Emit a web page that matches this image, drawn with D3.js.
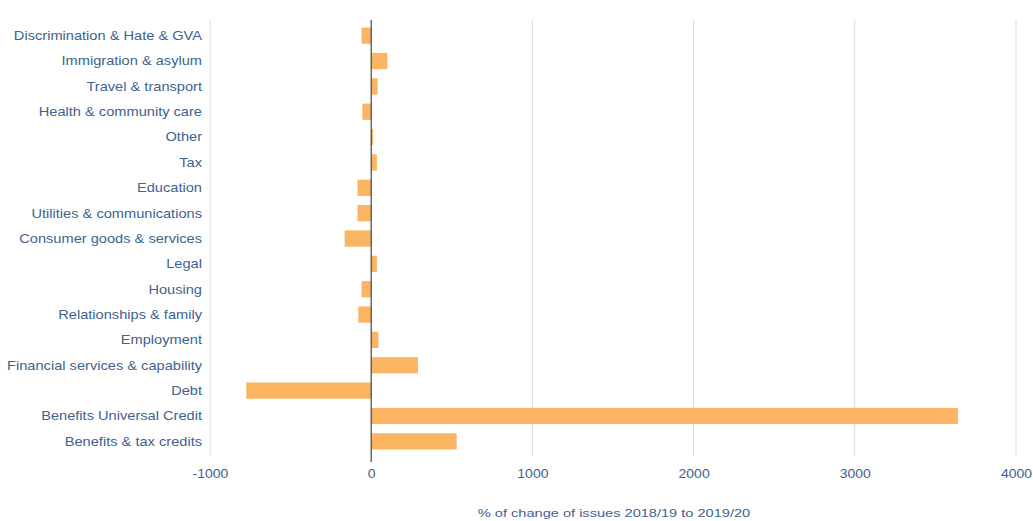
<!DOCTYPE html>
<html><head><meta charset="utf-8">
<script src="https://cdn.jsdelivr.net/npm/d3@7"></script>
<style>body{margin:0;background:#fff;}svg{display:block;font-family:"Liberation Sans",Arial,sans-serif;}</style>
</head><body>
<svg id="c" width="1033" height="521"></svg>
<script>
const categories = ["Discrimination & Hate & GVA","Immigration & asylum","Travel & transport","Health & community care","Other","Tax","Education","Utilities & communications","Consumer goods & services","Legal","Housing","Relationships & family","Employment","Financial services & capability","Debt","Benefits Universal Credit","Benefits & tax credits"];
const values = [-60, 100, 40, -55, 12, 35, -85, -85, -165, 35, -60, -80, 45, 290, -775, 3640, 530];
const tickValues = [-1000, 0, 1000, 2000, 3000, 4000];
const axisTitle = "% of change of issues 2018/19 to 2019/20";

const svg = d3.select("#c");
const x = d3.scaleLinear().domain([-1000, 4000]).range([210, 1016]);
const y = d3.scaleBand().domain(categories).range([23, 454]).paddingInner(0.36).paddingOuter(0.18);
const textColor = "#40638f";

// gridlines
svg.append("g").selectAll("line").data(tickValues.filter(d => d !== 0)).join("line")
  .attr("x1", d => x(d)).attr("x2", d => x(d)).attr("y1", 20).attr("y2", 456)
  .attr("stroke", "#dcdcdc").attr("stroke-width", 1);

// bars
svg.append("g").selectAll("rect").data(categories).join("rect")
  .attr("x", (d,i) => x(Math.min(0, values[i])))
  .attr("width", (d,i) => Math.abs(x(values[i]) - x(0)))
  .attr("y", d => y(d)).attr("height", y.bandwidth())
  .attr("fill", "#fbb462");

// zero line
svg.append("line").attr("x1", x(0)).attr("x2", x(0)).attr("y1", 20).attr("y2", 462)
  .attr("stroke", "#444").attr("stroke-width", 1.2);

// category labels (horizontally stretched like the reference)
svg.append("g").selectAll("text").data(categories).join("text")
  .attr("transform", d => `translate(202,${y(d) + y.bandwidth()/2}) scale(1.17,1)`)
  .attr("dy", "0.35em")
  .attr("text-anchor", "end").attr("font-size", 12.5).attr("fill", textColor).text(d => d);

// x axis tick labels
const xa = d3.axisBottom(x).tickValues(tickValues).tickSize(0).tickFormat(d => String(d));
const g = svg.append("g").attr("transform", "translate(0,466)").call(xa);
g.select(".domain").remove();
g.selectAll("text").attr("font-size", 12.5).attr("fill", textColor)
  .attr("font-family", "Liberation Sans, Arial, sans-serif")
  .attr("transform", "scale(1.12,1)");

svg.append("text").attr("transform", "translate(614,517) scale(1.27,1)").attr("text-anchor", "middle")
  .attr("font-size", 11.5).attr("fill", textColor).text(axisTitle);
</script>
</body></html>
